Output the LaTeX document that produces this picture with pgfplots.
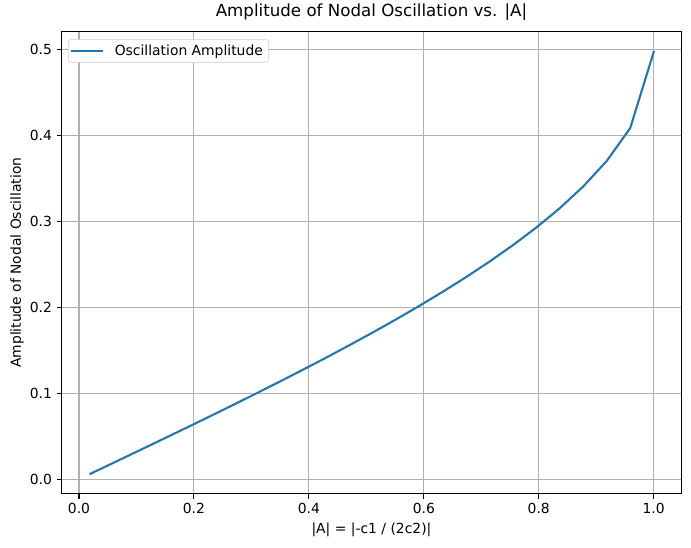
\documentclass[border=0pt]{standalone}
\usepackage{fontspec}
\setmainfont{DejaVu Sans}
\usepackage{pgfplots}
\pgfplotsset{compat=1.18}
\definecolor{mplblue}{HTML}{1F77B4}
\definecolor{gridgray}{HTML}{B0B0B0}
\begin{document}
\begin{tikzpicture}
\useasboundingbox (-44.4pt,-39.1pt) rectangle (453.1pt,355.4pt);
\begin{axis}[
  at={(0,0)}, anchor=south west,
  scale only axis, width=446.1pt, height=332.6pt,
  xmin=-0.0301, xmax=1.048, ymin=-0.0168, ymax=0.5209,
  xtick={0,0.2,0.4,0.6,0.8,1.0}, ytick={0,0.1,0.2,0.3,0.4,0.5},
  /pgf/number format/.cd, fixed, fixed zerofill, precision=1, assume math mode=true, /pgfplots/.cd,
  grid=major, grid style={gridgray, line width=0.8pt},
  axis line style={line width=0.8pt},
  tick align=outside, tick pos=left, major tick length=3.5pt,
  every tick/.style={black, line width=0.8pt},
  tick label style={font=\fontsize{10}{12}\selectfont},
  every axis title/.style={at={(axis description cs:0.5,1)}, anchor=center, yshift=14.2pt, font=\fontsize{12}{14}\selectfont},
  every axis x label/.style={at={(axis description cs:0.5,0)}, anchor=center, yshift=-26.1pt, font=\fontsize{10}{12}\selectfont},
  every axis y label/.style={at={(axis description cs:0,0.5)}, anchor=center, rotate=90, yshift=32.2pt, font=\fontsize{10}{12}\selectfont},
  title={Amplitude of Nodal Oscillation vs. |A|},
  xlabel={|A| = |-c1 / (2c2)|},
  ylabel={Amplitude of Nodal Oscillation},
  legend cell align=left,
  legend style={at={(0,1)}, anchor=north west, xshift=4.6pt, yshift=-5.5pt,
    draw=black!20, rounded corners=2pt, font=\fontsize{10}{12}\selectfont,
    inner xsep=1.8pt, inner ysep=1.2pt, column sep=6pt,
    nodes={inner sep=2.4pt}},
  legend image code/.code={\draw[#1, line cap=rect] (0.75pt,0pt) -- (22.5pt,0pt);},
]
\addplot[mplblue, line width=1.5pt, line cap=rect] coordinates {
(0.020000,0.006367)
(0.060833,0.019376)
(0.101667,0.032418)
(0.142500,0.045515)
(0.183333,0.058688)
(0.224167,0.071966)
(0.265000,0.085372)
(0.305833,0.098935)
(0.346667,0.112686)
(0.387500,0.126661)
(0.428333,0.140899)
(0.469167,0.155446)
(0.510000,0.170353)
(0.550833,0.185689)
(0.591667,0.201531)
(0.632500,0.217972)
(0.673333,0.235140)
(0.714167,0.253193)
(0.755000,0.272362)
(0.795833,0.292966)
(0.836667,0.315501)
(0.877500,0.340801)
(0.918333,0.370460)
(0.959167,0.408723)
(1.000000,0.497300)
};
\addlegendentry{Oscillation Amplitude}
\end{axis}
\end{tikzpicture}
\end{document}
